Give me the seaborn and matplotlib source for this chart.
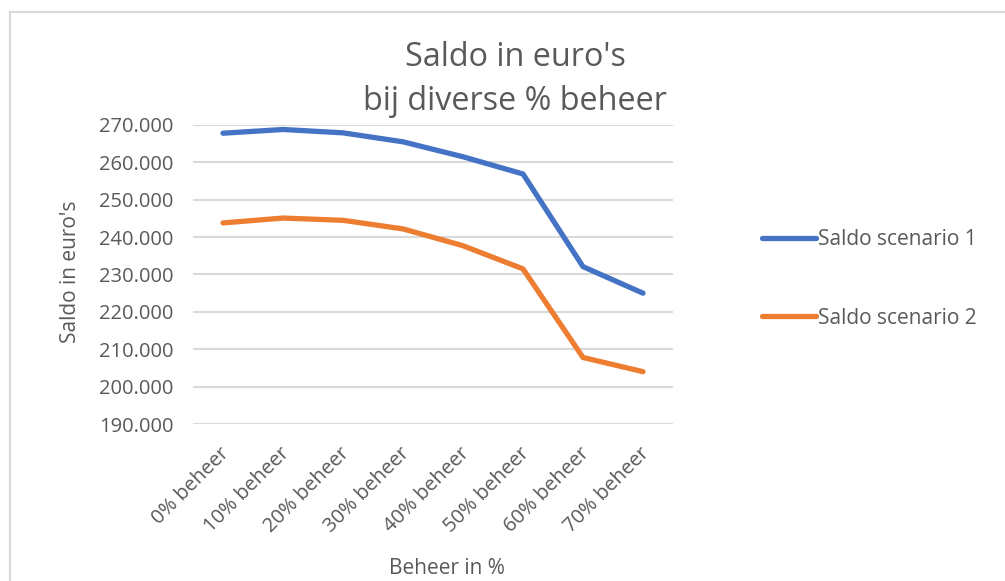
import matplotlib
matplotlib.use("Agg")
import matplotlib.pyplot as plt
import matplotlib.ticker as mticker
from matplotlib.patches import Rectangle
from matplotlib.lines import Line2D
import seaborn as sns
import pandas as pd

categories = ["0% beheer", "10% beheer", "20% beheer", "30% beheer",
              "40% beheer", "50% beheer", "60% beheer", "70% beheer"]
saldo_scenario_1 = [267800, 268800, 267900, 265500, 261500, 256900, 232100, 225000]
saldo_scenario_2 = [243800, 245100, 244500, 242200, 237700, 231500, 207800, 204000]
series_names = ["Saldo scenario 1", "Saldo scenario 2"]
y_ticks = [190000, 200000, 210000, 220000, 230000, 240000, 250000, 260000, 270000]

df = pd.DataFrame({
    "pos": list(range(len(categories))) * 2,
    "Saldo": saldo_scenario_1 + saldo_scenario_2,
    "Serie": [series_names[0]] * len(categories) + [series_names[1]] * len(categories),
})

sns.set_theme(style="white")
plt.rcParams["font.family"] = ["Open Sans", "DejaVu Sans"]
gray = "#595959"
colors = ["#4472C4", "#ED7D31"]

fig = plt.figure(figsize=(10.05, 5.81), dpi=100)
ax = fig.add_axes([193 / 1005, 1 - 424 / 581, 480 / 1005, 299 / 581])

# chart border (left/top visible)
fig.patches.append(Rectangle((10 / 1005, -0.05), 1.2, 1 - 12 / 581 + 0.05,
                             transform=fig.transFigure, fill=False,
                             edgecolor="#D9D9D9", linewidth=1.5))

sns.lineplot(data=df, x="pos", y="Saldo", hue="Serie", ax=ax,
             palette=colors, linewidth=3.8, legend=False,
             solid_capstyle="round")

ax.set_xlim(-0.5, len(categories) - 0.5)
ax.set_ylim(y_ticks[0], y_ticks[-1])
ax.set_yticks(y_ticks)
ax.yaxis.set_major_formatter(mticker.FuncFormatter(lambda v, p: f"{int(v):,}".replace(",", ".")))
ax.set_xticks(range(len(categories)))
ax.set_xticklabels(categories, rotation=45, ha="right", rotation_mode="anchor")
ax.tick_params(axis="x", length=0, pad=14, labelsize=14.5, labelcolor=gray)
ax.tick_params(axis="y", length=0, pad=14, labelsize=14.5, labelcolor=gray)
for lab in ax.get_xticklabels():
    lab.set_transform(lab.get_transform() + matplotlib.transforms.ScaledTranslation(-4 / 100, 0, fig.dpi_scale_trans))

ax.grid(axis="y", color="#D9D9D9", linewidth=1.5)
ax.grid(axis="x", visible=False)
for s in ax.spines.values():
    s.set_visible(False)
ax.set_axisbelow(True)

ax.set_xlabel("")
ax.set_ylabel("")
fig.text(70 / 1005, 1 - 272 / 581, "Saldo in euro's", rotation=90, ha="center", va="center",
         fontsize=15, color=gray)
fig.text(447 / 1005, 1 - 568 / 581, "Beheer in %", ha="center", va="center",
         fontsize=15, color=gray)
fig.text(515 / 1005, 1 - 58 / 581, "Saldo in euro's", ha="center", va="center",
         fontsize=23.3, color=gray)
fig.text(515 / 1005, 1 - 102 / 581, "bij diverse % beheer", ha="center", va="center",
         fontsize=23.3, color=gray)

handles = [Line2D([], [], color=c, linewidth=3.8, solid_capstyle="round") for c in colors]
leg = fig.legend(handles, series_names, loc="center left",
                 bbox_to_anchor=(762 / 1005, 1 - 279 / 581), frameon=False,
                 fontsize=15, handlelength=2.6, handletextpad=0.1, labelspacing=2.75,
                 borderaxespad=0, borderpad=0)
for t in leg.get_texts():
    t.set_color(gray)

fig.savefig("out.png", dpi=100)
